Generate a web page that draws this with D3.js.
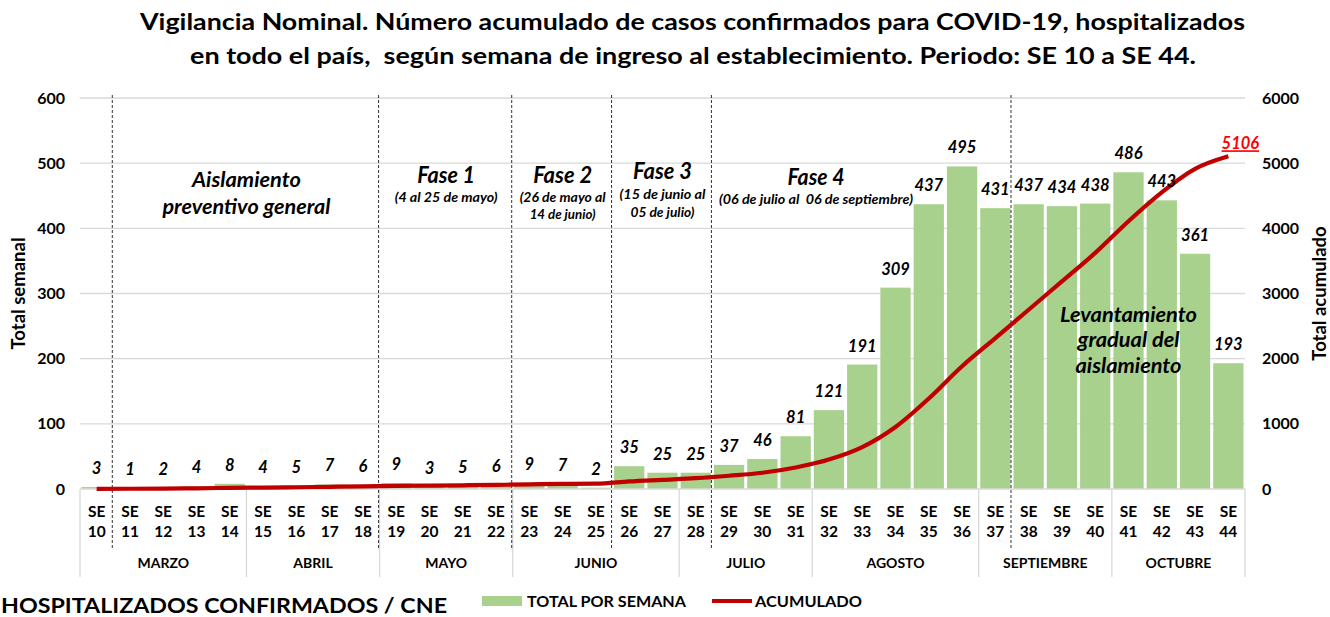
<!DOCTYPE html>
<html><head><meta charset="utf-8">
<script src="https://cdn.jsdelivr.net/npm/d3@7"></script>
<style>
body{margin:0;background:#fff;}
svg{display:block;}
text{font-family:Lato,"Open Sans",sans-serif;fill:#000;white-space:pre;}
</style></head>
<body>
<svg id="c" width="1330" height="617"></svg>
<script>
const weeks = ["10","11","12","13","14","15","16","17","18","19","20","21","22","23","24","25","26","27","28","29","30","31","32","33","34","35","36","37","38","39","40","41","42","43","44"];
const weekly = [3,1,2,4,8,4,5,7,6,9,3,5,6,9,7,2,35,25,25,37,46,81,121,191,309,437,495,431,437,434,438,486,443,361,193];
const cumulative = [3,4,6,10,18,22,27,34,40,49,52,57,63,72,79,81,116,141,166,203,249,330,451,642,951,1388,1883,2314,2751,3185,3623,4109,4552,4913,5106];
const months = [["MARZO","10","14"],["ABRIL","15","18"],["MAYO","19","22"],["JUNIO","23","27"],["JULIO","28","31"],["AGOSTO","32","36"],["SEPTIEMBRE","37","40"],["OCTUBRE","41","44"]];
const phaseBreaks = ["10","18","22","25","28","37"]; // dashed line after these weeks
const leftTicks = [0,100,200,300,400,500,600];
const rightTicks = [0,1000,2000,3000,4000,5000,6000];

const svg = d3.select("#c");
const L = 80, R = 1245, T = 98, B = 489;
const x = d3.scaleBand().domain(weeks).range([L, R]).paddingInner(0.09).paddingOuter(0.045);
const step = x.step();
const xc = w => x(w) + x.bandwidth()/2;
const xEdgeAfter = w => x(w) + x.bandwidth() + step*x.paddingInner()/2;
const xEdgeBefore = w => x(w) - step*x.paddingInner()/2;
const yL = d3.scaleLinear().domain([0,600]).range([B, T]);
const yR = d3.scaleLinear().domain([0,6000]).range([B, T]);

function fit(el, w){ el.attr("textLength", w).attr("lengthAdjust","spacingAndGlyphs"); return el; }

// title
const title = [["Vigilancia Nominal. Número acumulado de casos confirmados para COVID-19, hospitalizados", 30, 140, 1245],
               ["en todo el país,  según semana de ingreso al establecimiento. Periodo: SE 10 a SE 44.", 64, 190, 1196]];
title.forEach(([t, yy, x0, x1]) => {
  const el = svg.append("text").attr("x", (x0+x1)/2).attr("y", yy).attr("text-anchor","middle")
    .attr("font-size", 22.5).attr("font-weight", 700).text(t);
  fit(el, x1-x0);
});

// gridlines
svg.append("g").selectAll("line").data(leftTicks.slice(1)).join("line")
  .attr("x1", L).attr("x2", R).attr("y1", d=>yL(d)).attr("y2", d=>yL(d))
  .attr("stroke", "#d9d9d9").attr("stroke-width", 1.3);

// left axis
const gL = svg.append("g").attr("transform", `translate(${L},0)`)
  .call(d3.axisLeft(yL).tickValues(leftTicks).tickFormat(d3.format("d")).tickSize(0).tickPadding(15));
gL.select(".domain").remove();
gL.selectAll("text").attr("font-size", 16).attr("font-weight", 700).attr("font-family","Lato").attr("fill","#000");

// right axis
const gR = svg.append("g").attr("transform", `translate(${R},0)`)
  .call(d3.axisRight(yR).tickValues(rightTicks).tickFormat(d3.format("d")).tickSize(0).tickPadding(17));
gR.select(".domain").remove();
gR.selectAll("text").attr("font-size", 16).attr("font-weight", 700).attr("font-family","Lato").attr("fill","#000");

svg.append("text").attr("transform", `translate(25,${(T+B)/2}) rotate(-90)`).attr("text-anchor","middle")
  .attr("font-size", 18.5).attr("font-weight", 700).text("Total semanal");
svg.append("text").attr("transform", `translate(1326,${(T+B)/2}) rotate(-90)`).attr("text-anchor","middle")
  .attr("font-size", 18.5).attr("font-weight", 700).text("Total acumulado");

// bars
svg.append("g").selectAll("rect").data(weeks).join("rect")
  .attr("x", d=>x(d)).attr("width", x.bandwidth())
  .attr("y", (d,i)=>yL(weekly[i])).attr("height", (d,i)=>B - yL(weekly[i]))
  .attr("fill", "#a9d18e");

// baseline
svg.append("line").attr("x1", L).attr("x2", R).attr("y1", B).attr("y2", B).attr("stroke","#d9d9d9").attr("stroke-width",1.3);

// month separators
const sepX = [L].concat(months.map(m => xEdgeAfter(m[2])));
sepX[sepX.length-1] = R;
svg.append("g").selectAll("line").data(sepX).join("line")
  .attr("x1", d=>d).attr("x2", d=>d).attr("y1", B).attr("y2", 577)
  .attr("stroke", "#d9d9d9").attr("stroke-width", 1.3);

// week labels
const gW = svg.append("g");
weeks.forEach(w => {
  gW.append("text").attr("x", xc(w)).attr("y", 517).attr("text-anchor","middle")
    .attr("font-size", 15.5).attr("font-weight", 700).text("SE");
  gW.append("text").attr("x", xc(w)).attr("y", 537).attr("text-anchor","middle")
    .attr("font-size", 15.5).attr("font-weight", 700).text(w);
});
// month labels
months.forEach(m => {
  const cx = (xEdgeBefore(m[1]) + xEdgeAfter(m[2]))/2;
  svg.append("text").attr("x", cx).attr("y", 568).attr("text-anchor","middle")
    .attr("font-size", 14).attr("font-weight", 700).text(m[0]);
});

// phase dashed dividers
svg.append("g").selectAll("line").data(phaseBreaks).join("line")
  .attr("x1", d=>xEdgeAfter(d)-1).attr("x2", d=>xEdgeAfter(d)-1).attr("y1", 95).attr("y2", 549)
  .attr("stroke", "#333").attr("stroke-width", 1).attr("stroke-dasharray","3,2");

// line
const line = d3.line().x((d,i)=>xc(weeks[i])).y(d=>yR(d)).curve(d3.curveMonotoneX);
svg.append("path").datum(cumulative).attr("d", line).attr("fill","none")
  .attr("stroke","#c00000").attr("stroke-width",4.2).attr("stroke-linejoin","round");

// bar labels
svg.append("g").selectAll("text").data(weeks).join("text")
  .attr("x", d=>xc(d)).attr("y", (d,i)=>yL(weekly[i]) - 13)
  .attr("text-anchor","middle").attr("font-size", 16.5).attr("font-weight",700).attr("font-style","italic")
  .text((d,i)=>weekly[i]);

// final cumulative label
const lastW = weeks[weeks.length-1];
const lastV = cumulative[cumulative.length-1];
svg.append("text").attr("x", xc(lastW)+12).attr("y", yR(lastV)-7).attr("text-anchor","middle")
  .attr("font-size", 16.5).attr("font-weight",700).attr("font-style","italic").style("fill","#ff0000")
  .attr("text-decoration","underline").text(lastV);

// phase annotations
function ann(lines, cx){
  lines.forEach(([t, yy, fs, w]) => {
    const el = svg.append("text").attr("x", cx).attr("y", yy).attr("text-anchor","middle")
      .attr("font-size", fs).attr("font-weight",700).attr("font-style","italic").text(t);
    if (w) fit(el, w);
  });
}
ann([["Aislamiento",187,21,109],["preventivo general",214,21,168]], (xEdgeAfter("10")+xEdgeAfter("18"))/2);
ann([["Fase 1",183,22,58],["(4 al 25 de mayo)",202,13,103]], (xEdgeAfter("18")+xEdgeAfter("22"))/2);
ann([["Fase 2",183,22,59],["(26 de mayo al",202,13,86],["14 de junio)",219,13,66]], (xEdgeAfter("22")+xEdgeAfter("25"))/2);
ann([["Fase 3",179,22,59],["(15 de junio al",199,13,86],["05 de julio)",217,13,64]], (xEdgeAfter("25")+xEdgeAfter("28"))/2);
ann([["Fase 4",185,22,57],["(06 de julio al  06 de septiembre)",204,13,194]], 816);
ann([["Levantamiento",322,21,137],["gradual del",347,21,102],["aislamiento",373,21,106]], xc("41"));

// legend
svg.append("rect").attr("x",482).attr("y",596).attr("width",40).attr("height",10).attr("fill","#a9d18e");
fit(svg.append("text").attr("x",527).attr("y",607).attr("font-size",15).attr("font-weight",700).text("TOTAL POR SEMANA"), 159);
svg.append("line").attr("x1",712).attr("x2",752).attr("y1",601).attr("y2",601).attr("stroke","#c00000").attr("stroke-width",4.2);
fit(svg.append("text").attr("x",755).attr("y",607).attr("font-size",15).attr("font-weight",700).text("ACUMULADO"), 107);
fit(svg.append("text").attr("x",1).attr("y",613).attr("font-size",20).attr("font-weight",700).text("HOSPITALIZADOS CONFIRMADOS / CNE"), 446);
</script>
</body></html>
